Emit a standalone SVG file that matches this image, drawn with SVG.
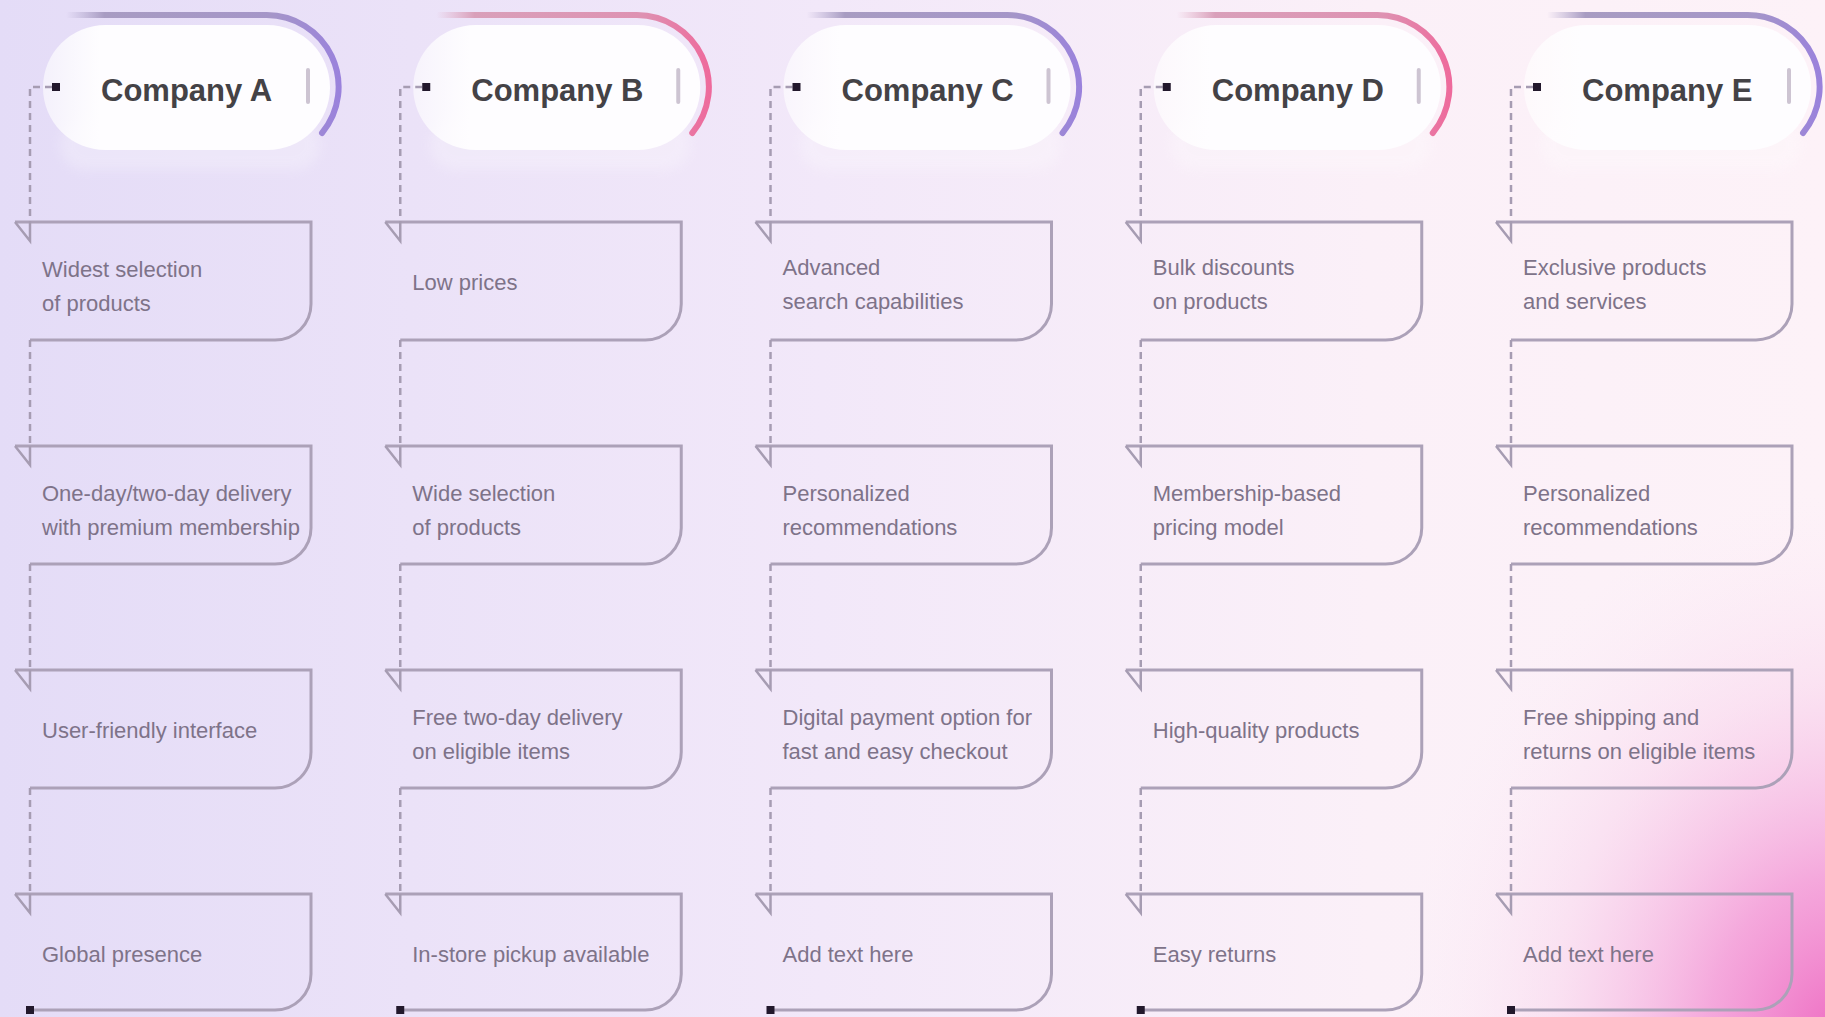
<svg xmlns="http://www.w3.org/2000/svg" width="1825" height="1017" viewBox="0 0 1825 1017">
<defs>
<linearGradient id="bg" x1="0" y1="0" x2="1" y2="0">
<stop offset="0" stop-color="#e4dcf7"/>
<stop offset="0.45" stop-color="#f2e8f9"/>
<stop offset="0.75" stop-color="#fbf0f8"/>
<stop offset="1" stop-color="#fdf2f8"/>
</linearGradient>
<radialGradient id="glow" cx="1840" cy="1040" r="520" gradientUnits="userSpaceOnUse" gradientTransform="translate(1840 1040) scale(0.85 1.05) translate(-1840 -1040)">
<stop offset="0" stop-color="#ee6cc2" stop-opacity="1"/>
<stop offset="0.3" stop-color="#f290d3" stop-opacity="0.75"/>
<stop offset="0.65" stop-color="#f6c4e6" stop-opacity="0.35"/>
<stop offset="1" stop-color="#fbe8f5" stop-opacity="0"/>
</radialGradient>
<linearGradient id="pill" gradientUnits="userSpaceOnUse" x1="45" y1="0" x2="100" y2="0">
<stop offset="0" stop-color="#ffffff" stop-opacity="0.6"/>
<stop offset="1" stop-color="#fefdff" stop-opacity="1"/>
</linearGradient>
<linearGradient id="ringP" gradientUnits="userSpaceOnUse" x1="66" y1="0" x2="340" y2="0">
<stop offset="0" stop-color="#b0a6cc" stop-opacity="0"/>
<stop offset="0.14" stop-color="#a89cc2" stop-opacity="1"/>
<stop offset="0.75" stop-color="#a596c8"/>
<stop offset="1" stop-color="#9a82dc"/>
</linearGradient>
<linearGradient id="ringK" gradientUnits="userSpaceOnUse" x1="66" y1="0" x2="340" y2="0">
<stop offset="0" stop-color="#e0a8c0" stop-opacity="0"/>
<stop offset="0.14" stop-color="#d9a0ba" stop-opacity="1"/>
<stop offset="0.75" stop-color="#de92b2"/>
<stop offset="1" stop-color="#ee6a9c"/>
</linearGradient>
<filter id="soft" x="-20%" y="-20%" width="140%" height="160%">
<feGaussianBlur stdDeviation="6"/>
</filter>
</defs>
<style>
.pill{fill:url(#pill)}
.halo{fill:#ffffff;opacity:0.25}
.ringP{fill:none;stroke:url(#ringP);stroke-width:6;stroke-linecap:round}
.ringK{fill:none;stroke:url(#ringK);stroke-width:6;stroke-linecap:round}
.bar{fill:#cdc4d2}
.h{font-family:"Liberation Sans",Arial,sans-serif;font-size:31px;font-weight:bold;fill:#444246}
.box{fill:none;stroke:#aca1b8;stroke-width:3}
.t{font-family:"Liberation Sans",Arial,sans-serif;font-size:22px;fill:#7e7389}
.dash{fill:none;stroke:#a69cb2;stroke-width:2.5;stroke-dasharray:7 5}
.arr{fill:none;stroke:#a69cb2;stroke-width:2.5}
.dot{fill:#22182c}
</style>
<rect x="0" y="0" width="1825" height="1017" fill="url(#bg)"/>
<rect x="0" y="0" width="1825" height="1017" fill="url(#glow)"/>

<!-- headers -->
<g id="company-a" transform="translate(0,0)">
<rect class="halo" x="60" y="120" width="260" height="50" rx="25" filter="url(#soft)"/>
<rect class="pill" x="43" y="25" width="287" height="125" rx="62.5"/>
<path class="ringP" d="M68,15 H266 A72,72 0 0 1 322,133"/>
<text class="h" x="101" y="101">Company A</text>
<rect class="bar" x="306" y="68" width="4" height="36" rx="2"/>
</g>
<g id="company-b" transform="translate(370.25,0)">
<rect class="halo" x="60" y="120" width="260" height="50" rx="25" filter="url(#soft)"/>
<rect class="pill" x="43" y="25" width="287" height="125" rx="62.5"/>
<path class="ringK" d="M68,15 H266 A72,72 0 0 1 322,133"/>
<text class="h" x="101" y="101">Company B</text>
<rect class="bar" x="306" y="68" width="4" height="36" rx="2" fill="#dcc6d2"/>
</g>
<g id="company-c" transform="translate(740.5,0)">
<rect class="halo" x="60" y="120" width="260" height="50" rx="25" filter="url(#soft)"/>
<rect class="pill" x="43" y="25" width="287" height="125" rx="62.5"/>
<path class="ringP" d="M68,15 H266 A72,72 0 0 1 322,133"/>
<text class="h" x="101" y="101">Company C</text>
<rect class="bar" x="306" y="68" width="4" height="36" rx="2"/>
</g>
<g id="company-d" transform="translate(1110.75,0)">
<rect class="halo" x="60" y="120" width="260" height="50" rx="25" filter="url(#soft)"/>
<rect class="pill" x="43" y="25" width="287" height="125" rx="62.5"/>
<path class="ringK" d="M68,15 H266 A72,72 0 0 1 322,133"/>
<text class="h" x="101" y="101">Company D</text>
<rect class="bar" x="306" y="68" width="4" height="36" rx="2" fill="#dcc6d2"/>
</g>
<g id="company-e" transform="translate(1481,0)">
<rect class="halo" x="60" y="120" width="260" height="50" rx="25" filter="url(#soft)"/>
<rect class="pill" x="43" y="25" width="287" height="125" rx="62.5"/>
<path class="ringP" d="M68,15 H266 A72,72 0 0 1 322,133"/>
<text class="h" x="101" y="101">Company E</text>
<rect class="bar" x="306" y="68" width="4" height="36" rx="2"/>
</g>

<!-- feature boxes: column A -->
<g id="a1"><path class="box" d="M15,222 H311 V304 A36,36 0 0 1 275,340 H30"/><text class="t" x="42" y="277">Widest selection</text><text class="t" x="42" y="311">of products</text></g>
<g id="a2"><path class="box" d="M15,446 H311 V528 A36,36 0 0 1 275,564 H30"/><text class="t" x="42" y="501">One-day/two-day delivery</text><text class="t" x="42" y="535">with premium membership</text></g>
<g id="a3"><path class="box" d="M15,670 H311 V752 A36,36 0 0 1 275,788 H30"/><text class="t" x="42" y="738">User-friendly interface</text></g>
<g id="a4"><path class="box" d="M15,894 H311 V974 A36,36 0 0 1 275,1010 H30"/><text class="t" x="42" y="962">Global presence</text></g>

<!-- column B -->
<g id="b1" transform="translate(370.25,0)"><path class="box" d="M15,222 H311 V304 A36,36 0 0 1 275,340 H30"/><text class="t" x="42" y="290">Low prices</text></g>
<g id="b2" transform="translate(370.25,0)"><path class="box" d="M15,446 H311 V528 A36,36 0 0 1 275,564 H30"/><text class="t" x="42" y="501">Wide selection</text><text class="t" x="42" y="535">of products</text></g>
<g id="b3" transform="translate(370.25,0)"><path class="box" d="M15,670 H311 V752 A36,36 0 0 1 275,788 H30"/><text class="t" x="42" y="725">Free two-day delivery</text><text class="t" x="42" y="759">on eligible items</text></g>
<g id="b4" transform="translate(370.25,0)"><path class="box" d="M15,894 H311 V974 A36,36 0 0 1 275,1010 H30"/><text class="t" x="42" y="962">In-store pickup available</text></g>

<!-- column C -->
<g id="c1" transform="translate(740.5,0)"><path class="box" d="M15,222 H311 V304 A36,36 0 0 1 275,340 H30"/><text class="t" x="42" y="275">Advanced</text><text class="t" x="42" y="309">search capabilities</text></g>
<g id="c2" transform="translate(740.5,0)"><path class="box" d="M15,446 H311 V528 A36,36 0 0 1 275,564 H30"/><text class="t" x="42" y="501">Personalized</text><text class="t" x="42" y="535">recommendations</text></g>
<g id="c3" transform="translate(740.5,0)"><path class="box" d="M15,670 H311 V752 A36,36 0 0 1 275,788 H30"/><text class="t" x="42" y="725">Digital payment option for</text><text class="t" x="42" y="759">fast and easy checkout</text></g>
<g id="c4" transform="translate(740.5,0)"><path class="box" d="M15,894 H311 V974 A36,36 0 0 1 275,1010 H30"/><text class="t" x="42" y="962">Add text here</text></g>

<!-- column D -->
<g id="d1" transform="translate(1110.75,0)"><path class="box" d="M15,222 H311 V304 A36,36 0 0 1 275,340 H30"/><text class="t" x="42" y="275">Bulk discounts</text><text class="t" x="42" y="309">on products</text></g>
<g id="d2" transform="translate(1110.75,0)"><path class="box" d="M15,446 H311 V528 A36,36 0 0 1 275,564 H30"/><text class="t" x="42" y="501">Membership-based</text><text class="t" x="42" y="535">pricing model</text></g>
<g id="d3" transform="translate(1110.75,0)"><path class="box" d="M15,670 H311 V752 A36,36 0 0 1 275,788 H30"/><text class="t" x="42" y="738">High-quality  products</text></g>
<g id="d4" transform="translate(1110.75,0)"><path class="box" d="M15,894 H311 V974 A36,36 0 0 1 275,1010 H30"/><text class="t" x="42" y="962">Easy returns</text></g>

<!-- column E -->
<g id="e1" transform="translate(1481,0)"><path class="box" d="M15,222 H311 V304 A36,36 0 0 1 275,340 H30"/><text class="t" x="42" y="275">Exclusive products</text><text class="t" x="42" y="309">and services</text></g>
<g id="e2" transform="translate(1481,0)"><path class="box" d="M15,446 H311 V528 A36,36 0 0 1 275,564 H30"/><text class="t" x="42" y="501">Personalized</text><text class="t" x="42" y="535">recommendations</text></g>
<g id="e3" transform="translate(1481,0)"><path class="box" d="M15,670 H311 V752 A36,36 0 0 1 275,788 H30"/><text class="t" x="42" y="725">Free shipping and</text><text class="t" x="42" y="759">returns on eligible items</text></g>
<g id="e4" transform="translate(1481,0)"><path class="box" d="M15,894 H311 V974 A36,36 0 0 1 275,1010 H30"/><text class="t" x="42" y="962">Add text here</text></g>

<!-- connectors -->
<g id="connectors">
<g id="conn-a" transform="translate(0,0)">
<path class="dash" d="M52,87 H30 V222 M30,340 V446 M30,564 V670 M30,788 V894"/>
<path class="arr" d="M30,222 V241 L15,222 M30,446 V465 L15,446 M30,670 V689 L15,670 M30,894 V913 L15,894"/>
<rect class="dot" x="52" y="83" width="8" height="8"/>
<rect class="dot" x="26" y="1006" width="8" height="8"/>
</g>
<g id="conn-b" transform="translate(370.25,0)">
<path class="dash" d="M52,87 H30 V222 M30,340 V446 M30,564 V670 M30,788 V894"/>
<path class="arr" d="M30,222 V241 L15,222 M30,446 V465 L15,446 M30,670 V689 L15,670 M30,894 V913 L15,894"/>
<rect class="dot" x="52" y="83" width="8" height="8"/>
<rect class="dot" x="26" y="1006" width="8" height="8"/>
</g>
<g id="conn-c" transform="translate(740.5,0)">
<path class="dash" d="M52,87 H30 V222 M30,340 V446 M30,564 V670 M30,788 V894"/>
<path class="arr" d="M30,222 V241 L15,222 M30,446 V465 L15,446 M30,670 V689 L15,670 M30,894 V913 L15,894"/>
<rect class="dot" x="52" y="83" width="8" height="8"/>
<rect class="dot" x="26" y="1006" width="8" height="8"/>
</g>
<g id="conn-d" transform="translate(1110.75,0)">
<path class="dash" d="M52,87 H30 V222 M30,340 V446 M30,564 V670 M30,788 V894"/>
<path class="arr" d="M30,222 V241 L15,222 M30,446 V465 L15,446 M30,670 V689 L15,670 M30,894 V913 L15,894"/>
<rect class="dot" x="52" y="83" width="8" height="8"/>
<rect class="dot" x="26" y="1006" width="8" height="8"/>
</g>
<g id="conn-e" transform="translate(1481,0)">
<path class="dash" d="M52,87 H30 V222 M30,340 V446 M30,564 V670 M30,788 V894"/>
<path class="arr" d="M30,222 V241 L15,222 M30,446 V465 L15,446 M30,670 V689 L15,670 M30,894 V913 L15,894"/>
<rect class="dot" x="52" y="83" width="8" height="8"/>
<rect class="dot" x="26" y="1006" width="8" height="8"/>
</g>
</g>
</svg>
